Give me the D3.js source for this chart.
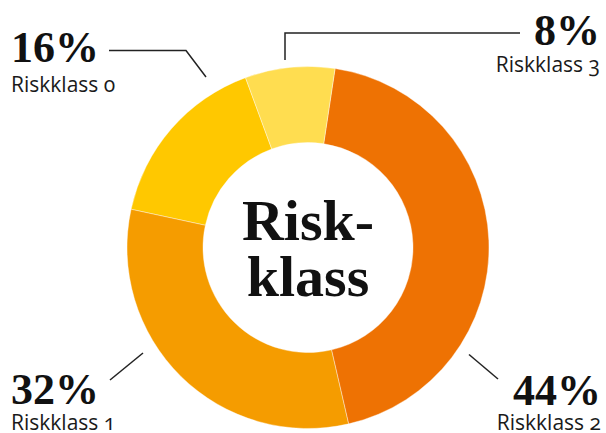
<!DOCTYPE html>
<html>
<head>
<meta charset="utf-8">
<script src="https://cdn.jsdelivr.net/npm/d3@7"></script>
<style>
  html, body { margin: 0; padding: 0; background: #fff; }
  svg { display: block; }
  .pct { font-family: "Liberation Serif", serif; font-weight: bold; font-size: 44px; fill: #111; }
  .cat { font-family: "Open Sans", sans-serif; font-size: 21px; fill: #1a1a1a; font-variant-numeric: oldstyle-nums; }
  .title { font-family: "Liberation Serif", serif; font-weight: bold; font-size: 58px; fill: #111; }
</style>
</head>
<body>
<script>
// Risk class shares (percent), ordered counter-clockwise from the top-left
const categories = ["Riskklass 0", "Riskklass 1", "Riskklass 2", "Riskklass 3"];
const values = [16, 32, 44, 8];
const colors = ["#FFC800", "#F59C00", "#EE7203", "#FFDD50"];
const centerTitle = ["Risk-", "klass"];

// Label placement: text anchor point, sub-label offset and leader-line vertices
const labelLayout = [
  { x: 11,  y: 62,  dy: 30, anchor: "start", line: [[109, 50.5], [186, 50.5], [206, 77]] },
  { x: 11,  y: 404, dy: 26, anchor: "start", line: [[110, 380], [143, 353]] },
  { x: 601, y: 405, dy: 25, anchor: "end",   line: [[469, 354.5], [498, 379]] },
  { x: 600, y: 45,  dy: 27, anchor: "end",   line: [[285, 60], [285, 33], [520, 33]] }
];

const width = 606, height = 433;
const cx = 308, cy = 247.5, outerR = 181, innerR = 105;
const deg = Math.PI / 180;

const svg = d3.select("body").append("svg")
  .attr("width", width).attr("height", height);

const color = d3.scaleOrdinal().domain(categories).range(colors);

// Slices run counter-clockwise starting from the Riskklass 0 / 3 boundary
const start = -20.2 * deg;
const pie = d3.pie().sort(null).value(d => d.value)
  .startAngle(start).endAngle(start - 2 * Math.PI);

const data = categories.map((c, i) => ({ cat: c, value: values[i] }));
const arcs = pie(data);
const arc = d3.arc().innerRadius(innerR).outerRadius(outerR);

const g = svg.append("g").attr("transform", `translate(${cx},${cy})`);
g.selectAll("path.slice").data(arcs).join("path")
  .attr("class", "slice")
  .attr("d", arc)
  .attr("fill", d => color(d.data.cat))
  .attr("stroke", "#fff")
  .attr("stroke-width", 0.4);

// Centre title
g.selectAll("text.title").data(centerTitle).join("text")
  .attr("class", "title")
  .attr("text-anchor", "middle")
  .attr("x", 0)
  .attr("y", (d, i) => -7.5 + i * 56)
  .text(d => d);

// Leader lines
const line = d3.line();
svg.selectAll("path.leader").data(labelLayout).join("path")
  .attr("class", "leader")
  .attr("d", d => line(d.line))
  .attr("fill", "none")
  .attr("stroke", "#222")
  .attr("stroke-width", 1.5);

// Percent + category labels
const labels = svg.selectAll("g.label").data(data).join("g").attr("class", "label");
labels.append("text")
  .attr("class", "pct")
  .attr("x", (d, i) => labelLayout[i].x)
  .attr("y", (d, i) => labelLayout[i].y)
  .attr("text-anchor", (d, i) => labelLayout[i].anchor)
  .text(d => d.value + "%");
labels.append("text")
  .attr("class", "cat")
  .attr("x", (d, i) => labelLayout[i].x)
  .attr("y", (d, i) => labelLayout[i].y + labelLayout[i].dy)
  .attr("text-anchor", (d, i) => labelLayout[i].anchor)
  .text(d => d.cat);
</script>
</body>
</html>
